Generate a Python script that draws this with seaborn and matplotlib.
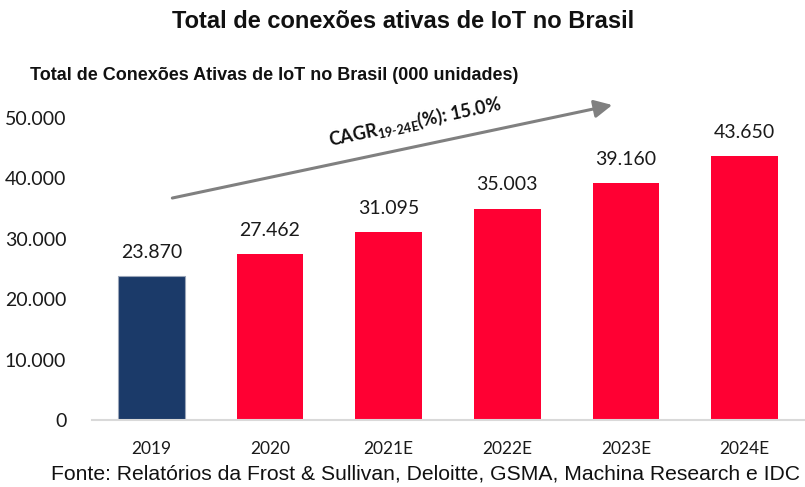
import matplotlib
matplotlib.use("Agg")
import matplotlib.pyplot as plt
import seaborn as sns
import pandas as pd

categories = ["2019", "2020", "2021E", "2022E", "2023E", "2024E"]
values = [23870, 27462, 31095, 35003, 39160, 43650]
bar_colors = ["#1B3A69", "#FF0033", "#FF0033", "#FF0033", "#FF0033", "#FF0033"]
yticks = [0, 10000, 20000, 30000, 40000, 50000]
ytick_labels = ["0", "10.000", "20.000", "30.000", "40.000", "50.000"]
title = "Total de conexões ativas de IoT no Brasil"
subtitle = "Total de Conexões Ativas de IoT no Brasil (000 unidades)"
footnote = "Fonte: Relatórios da Frost & Sullivan, Deloitte, GSMA, Machina Research e IDC"
cagr_text = r"CAGR$_{\mathbf{19\text{-}24E}}$(%): 15.0%"

sns.set_theme(style="white")
plt.rcParams["font.family"] = ["Lato", "DejaVu Sans"]
plt.rcParams["mathtext.fontset"] = "custom"
plt.rcParams["mathtext.bf"] = "Lato:bold"
plt.rcParams["mathtext.rm"] = "Lato"

df = pd.DataFrame({"ano": categories, "valor": values})

fig = plt.figure(figsize=(8.05, 4.87), dpi=100)
ax = fig.add_axes([92 / 805, (487 - 420) / 487, (804 - 92) / 805, (420 - 118) / 487])

sns.barplot(data=df, x="ano", y="valor", hue="ano", palette=bar_colors,
            legend=False, width=0.56, ax=ax, saturation=1)
for p in ax.patches:
    p.set_linewidth(0)
ax.patches[0].set_edgecolor("#9AA5B8")
ax.patches[0].set_linewidth(0.8)

ax.set_xlim(-0.5, 5.5)
ax.set_ylim(0, 50000)
ax.set_yticks(yticks)
ax.set_yticklabels(ytick_labels)
ax.tick_params(axis="y", length=0, pad=18.5, labelsize=14, labelcolor="#1a1a1a")
ax.tick_params(axis="x", length=0, pad=15, labelsize=12.5, labelcolor="#1a1a1a")
ax.set_xlabel("")
ax.set_ylabel("")
for s in ["top", "right", "left"]:
    ax.spines[s].set_visible(False)
ax.spines["bottom"].set_color("#D9D9D9")
ax.spines["bottom"].set_linewidth(1.5)

for i, v in enumerate(values):
    ax.annotate(f"{v:,}".replace(",", "."), (i, v), xytext=(0, 17),
                textcoords="offset points", ha="center", va="center",
                fontsize=14, color="#1a1a1a")

ax.annotate("", xy=(3.884, 52150), xytext=(0.177, 36750),
            arrowprops=dict(arrowstyle="-|>,head_length=0.9,head_width=0.45",
                            color="#808080", lw=2.2, shrinkA=0, shrinkB=0),
            annotation_clip=False)
ax.text(2.22, 49300, cagr_text, rotation=12, ha="center", va="center",
        fontsize=13, fontweight="bold", color="#111111",
        rotation_mode="anchor", clip_on=False)

fig.text(403 / 805, 1 - 22 / 487, title, ha="center", va="center",
         fontsize=17, fontweight="bold", family="Liberation Sans", color="#111111")
fig.text(30 / 805, 1 - 76 / 487, subtitle, ha="left", va="center",
         fontsize=13, fontweight="bold", family="Liberation Sans", color="#111111")
fig.text(800 / 805, 1 - 474 / 487, footnote, ha="right", va="center",
         fontsize=15.25, family="Liberation Sans", color="#111111")

fig.savefig("out.png", dpi=100)
